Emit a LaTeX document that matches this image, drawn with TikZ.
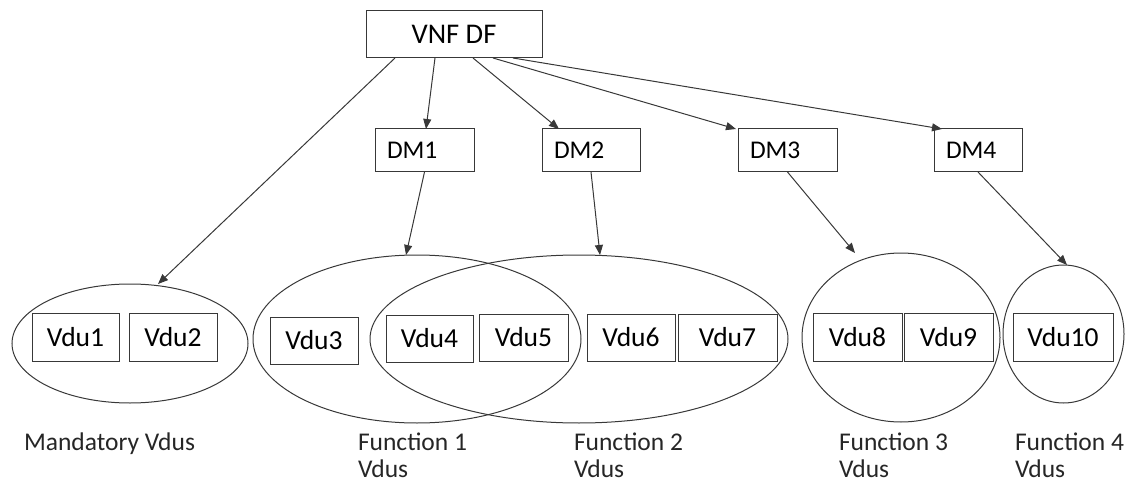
\documentclass[tikz,border=0pt]{standalone}
\usepackage{fontspec}
\setmainfont{Carlito}
\usetikzlibrary{arrows.meta,shapes.geometric}
\begin{document}
\begin{tikzpicture}[x=1pt,y=-1pt,
  every node/.style={inner sep=0pt, outer sep=0pt},
  line/.style={draw=black!78, line width=1pt},
  topbox/.style={line, rectangle, minimum width=176pt, minimum height=47pt, font=\fontsize{28.5}{30}\selectfont},
  dmbox/.style={line, rectangle, minimum height=43pt, inner xsep=12pt, align=left, font=\fontsize{25.5}{27}\selectfont},
  vdubox/.style={line, rectangle, minimum height=48pt, font=\fontsize{27.5}{29}\selectfont},
  grp/.style={line, ellipse},
  lbl/.style={anchor=base west, font=\fontsize{25.5}{27}\selectfont, text=black!85},
  conn/.style={line, -{Triangle[length=10pt,width=8pt]}}
]
\useasboundingbox (0,0) rectangle (1125,484);

% top
\node[topbox] (vnf) at (454,34.5) {VNF DF};

% deployment modes
\node[dmbox, text width=75pt] (dm1) at (424.5,150.5) {DM1};
\node[dmbox, text width=74pt] (dm2) at (591,150.5) {DM2};
\node[dmbox, text width=75pt] (dm3) at (787.5,150.5) {DM3};
\node[dmbox, text width=64pt] (dm4) at (978,150.5) {DM4};

% groups
\node[grp, minimum width=236pt, minimum height=119pt] (m) at (130,343.5) {};
\node[grp, minimum width=328pt, minimum height=168pt] (f1) at (417,339) {};
\node[grp, minimum width=418pt, minimum height=168pt] (f2) at (579,339) {};
\node[grp, minimum width=198pt, minimum height=169pt] (f3) at (901,337.5) {};
\node[grp, minimum width=121pt, minimum height=138pt] (f4) at (1063.5,334) {};

% vdus
\node[vdubox, minimum width=87pt] (v1) at (75.5,337) {Vdu1};
\node[vdubox, minimum width=88pt] (v2) at (173,337) {Vdu2};
\node[vdubox, minimum width=88pt, minimum height=47pt] (v3) at (314,340.5) {Vdu3};
\node[vdubox, minimum width=87pt, minimum height=47pt] (v4) at (429.5,338.5) {Vdu4};
\node[vdubox, minimum width=89pt, minimum height=47pt] (v5) at (523.5,337.5) {Vdu5};
\node[vdubox, minimum width=88pt, minimum height=47pt] (v6) at (631,337.5) {Vdu6};
\node[vdubox, minimum width=99pt, minimum height=47pt] (v7) at (727.5,337.5) {Vdu7};
\node[vdubox, minimum width=89pt] (v8) at (857.5,337) {Vdu8};
\node[vdubox, minimum width=89pt] (v9) at (948.5,337) {Vdu9};
\node[vdubox, minimum width=100pt] (v10) at (1063,337) {Vdu10};

% connectors
\draw[conn] ([xshift=-59pt]vnf.south) -- ([xshift=28pt]m.north);
\draw[conn] ([xshift=-19pt]vnf.south) -- ([xshift=1.5pt]dm1.north);
\draw[conn] ([xshift=19pt]vnf.south) -- ([xshift=-32pt]dm2.north);
\draw[conn] ([xshift=39pt]vnf.south) -- ([xshift=-2pt]dm3.north west);
\draw[conn] ([xshift=59pt]vnf.south) -- ([xshift=8pt]dm4.north west);
\draw[conn] (dm1.south) -- ([xshift=-11pt]f1.north);
\draw[conn] (dm2.south) -- ([xshift=21pt]f2.north);
\draw[conn] (dm3.south) -- ([xshift=-46pt]f3.north);
\draw[conn] (dm4.south) -- ([xshift=3.5pt]f4.north);

% labels
\node[lbl] (lm) at (24,450) {Mandatory Vdus};
\node[lbl] (l1a) at (358,450) {Function 1};
\node[lbl] (l1b) at (358,477) {Vdus};
\node[lbl] (l2a) at (574,450) {Function 2};
\node[lbl] (l2b) at (574,477) {Vdus};
\node[lbl] (l3a) at (839,450) {Function 3};
\node[lbl] (l3b) at (839,477) {Vdus};
\node[lbl] (l4a) at (1015,450) {Function 4};
\node[lbl] (l4b) at (1015,477) {Vdus};
\end{tikzpicture}
\end{document}
